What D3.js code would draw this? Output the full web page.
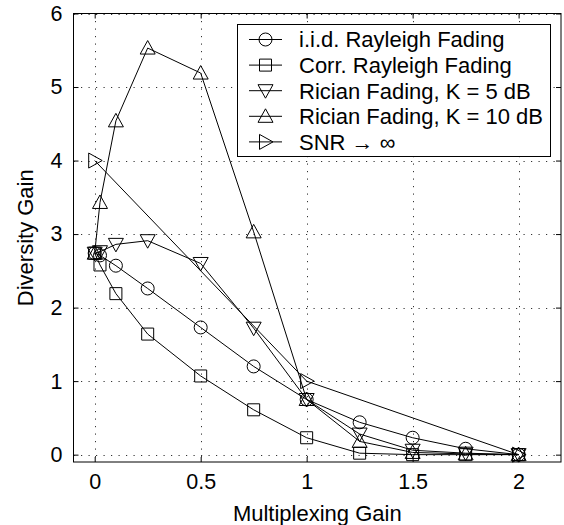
<!DOCTYPE html>
<html><head><meta charset="utf-8">
<script src="https://cdn.jsdelivr.net/npm/d3@7"></script>
<style>body{margin:0;background:#fff}svg{display:block}text{font-family:"Liberation Sans",Arial,sans-serif;fill:#000}</style>
</head><body><svg id="c" width="564" height="525"></svg>
<script>
const xVals = [0, 0.025, 0.1, 0.25, 0.5, 0.75, 1, 1.25, 1.5, 1.75, 2];
const iidRayleigh = [2.74, 2.71, 2.57, 2.26, 1.73, 1.20, 0.75, 0.44, 0.23, 0.08, 0];
const corrRayleigh = [2.74, 2.58, 2.19, 1.64, 1.07, 0.61, 0.23, 0.02, 0.0, 0.0, 0];
const ricianK5 = [2.74, 2.76, 2.86, 2.91, 2.60, 1.72, 0.75, 0.28, 0.06, 0.02, 0];
const ricianK10 = [2.74, 3.43, 4.54, 5.53, 5.19, 3.03, 0.75, 0.18, 0.03, 0.01, 0];
const snrX = [0, 1, 2];
const snrInf = [4, 1, 0];
const xTicks = [0, 0.5, 1, 1.5, 2];
const xTickLabels = ["0", "0.5", "1", "1.5", "2"];
const yTicks = [0, 1, 2, 3, 4, 5, 6];
const seriesNames = ["i.i.d. Rayleigh Fading", "Corr. Rayleigh Fading", "Rician Fading, K = 5 dB", "Rician Fading, K = 10 dB", "SNR \u2192 \u221e"];

const series = [
  {name: seriesNames[0], xs: xVals, ys: iidRayleigh, marker: "circle"},
  {name: seriesNames[1], xs: xVals, ys: corrRayleigh, marker: "square"},
  {name: seriesNames[2], xs: xVals, ys: ricianK5, marker: "down"},
  {name: seriesNames[3], xs: xVals, ys: ricianK10, marker: "up"},
  {name: seriesNames[4], xs: snrX, ys: snrInf, marker: "right"}
];

const L = 73.5, R = 561, T = 13.5, B = 462;
const svg = d3.select("#c");
const x = d3.scaleLinear().domain([-0.1, 2.2]).range([L, R]);
const y = d3.scaleLinear().domain([-0.1, 6]).range([B, T]);

function markerPath(type) {
  switch (type) {
    case "circle": return "M6.5,0A6.5,6.5 0 1,1 -6.5,0A6.5,6.5 0 1,1 6.5,0Z";
    case "square": return "M-6,-6H6V6H-6Z";
    case "up": return "M0,-7.5L7.5,6L-7.5,6Z";
    case "down": return "M0,7.5L7.5,-6L-7.5,-6Z";
    case "right": return "M7.5,0L-6,-7.5L-6,7.5Z";
  }
}

// grid
const grid = svg.append("g").attr("stroke", "#333").attr("stroke-width", 1).attr("stroke-dasharray", "1.2,6.3");
grid.selectAll(".gx").data(xTicks).join("line")
  .attr("x1", d => Math.round(x(d)) + 0.5).attr("x2", d => Math.round(x(d)) + 0.5)
  .attr("y1", T).attr("y2", B);
grid.selectAll(".gy").data(yTicks).join("line")
  .attr("y1", d => Math.round(y(d)) + 0.5).attr("y2", d => Math.round(y(d)) + 0.5)
  .attr("x1", L).attr("x2", R);

// axes
const ax = svg.append("g").attr("transform", `translate(0,${B})`)
  .call(d3.axisBottom(x).tickValues(xTicks).tickFormat((d, i) => xTickLabels[i]).tickSizeInner(-5).tickSizeOuter(0).tickPadding(12));
const axT = svg.append("g").attr("transform", `translate(0,${T})`)
  .call(d3.axisTop(x).tickValues(xTicks).tickFormat("").tickSizeInner(-5).tickSizeOuter(0));
const ay = svg.append("g").attr("transform", `translate(${L},0)`)
  .call(d3.axisLeft(y).tickValues(yTicks).tickFormat(d3.format("d")).tickSizeInner(-5).tickSizeOuter(0).tickPadding(11));
const ayR = svg.append("g").attr("transform", `translate(${R},0)`)
  .call(d3.axisRight(y).tickValues(yTicks).tickFormat("").tickSizeInner(-5).tickSizeOuter(0));
[ax, axT, ay, ayR].forEach(g => {
  g.select(".domain").remove();
  g.selectAll("line").attr("stroke", "#000");
  g.selectAll("text").style("font-size", "21.5px").attr("fill", "#000");
});
svg.append("rect").attr("x", L).attr("y", T).attr("width", R - L).attr("height", B - T)
  .attr("fill", "none").attr("stroke", "#000").attr("stroke-width", 1);

// series
const line = d3.line().x(d => x(d[0])).y(d => y(d[1]));
series.forEach(s => {
  const pts = s.xs.map((v, i) => [v, s.ys[i]]);
  svg.append("path").datum(pts).attr("d", line).attr("fill", "none").attr("stroke", "#000").attr("stroke-width", 1);
  svg.append("g").selectAll("path").data(pts).join("path")
    .attr("transform", d => `translate(${x(d[0])},${y(d[1])})`)
    .attr("d", markerPath(s.marker)).attr("fill", "none").attr("stroke", "#000").attr("stroke-width", 1);
});

// legend
const lg = svg.append("g");
lg.append("rect").attr("x", 237.5).attr("y", 24.5).attr("width", 313).attr("height", 132)
  .attr("fill", "#fff").attr("stroke", "#000").attr("stroke-width", 1);
series.forEach((s, i) => {
  const cy = 39.5 + 25.6 * i;
  lg.append("line").attr("x1", 249).attr("x2", 282).attr("y1", cy).attr("y2", cy).attr("stroke", "#000");
  lg.append("path").attr("transform", `translate(265.5,${cy})`).attr("d", markerPath(s.marker))
    .attr("fill", "none").attr("stroke", "#000");
  lg.append("text").attr("x", 299).attr("y", cy).attr("dy", "0.36em").style("font-size", "22px").text(s.name);
});

// labels
svg.append("text").attr("x", (L + R) / 2).attr("y", 521).attr("text-anchor", "middle").style("font-size", "22px").text("Multiplexing Gain");
svg.append("text").attr("transform", `translate(33,${(T + B) / 2}) rotate(-90)`).attr("text-anchor", "middle").style("font-size", "22px").text("Diversity Gain");
</script></body></html>
